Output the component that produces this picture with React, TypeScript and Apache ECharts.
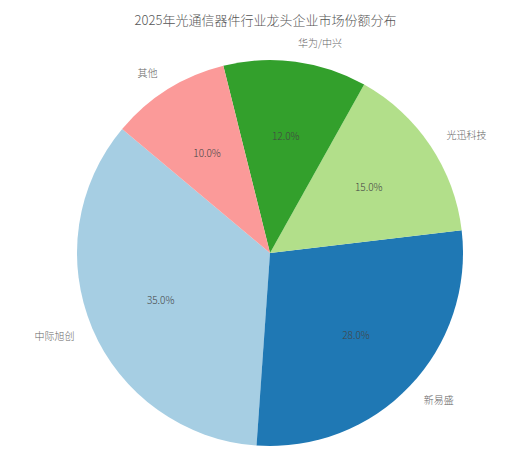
import React, { useEffect, useRef } from 'react';
import * as echarts from 'echarts';

const names = ['中际旭创', '新易盛', '光迅科技', '华为/中兴', '其他'];
const shares = [35, 28, 15, 12, 10];
const colors = ['#a6cee3', '#1f78b4', '#b2df8a', '#33a02c', '#fb9a99'];

const App: React.FC = () => {
  const chartRef = useRef<HTMLDivElement>(null);

  useEffect(() => {
    document.body.style.margin = '0';
    if (!chartRef.current) return;
    const chart = echarts.init(chartRef.current, undefined, { renderer: 'svg' });

    const font = '"Noto Sans CJK SC", "Noto Sans", sans-serif';
    const r = 193;
    const center = [270, 253];
    const data = names.map((name, i) => ({ name, value: shares[i] }));

    const option: echarts.EChartsOption = {
      animation: false,
      backgroundColor: '#fff',
      color: colors,
      title: {
        text: '2025年光通信器件行业龙头企业市场份额分布',
        left: 'center',
        top: 13,
        padding: 0,
        textStyle: {
          fontFamily: font,
          fontSize: 13,
          fontWeight: 300,
          color: '#555',
        },
      },
      series: [
        {
          type: 'pie',
          center,
          radius: [0, r],
          startAngle: 140,
          clockwise: false,
          avoidLabelOverlap: false,
          data,
          itemStyle: { borderWidth: 0 },
          label: {
            show: true,
            position: 'outside',
            formatter: '{b}',
            distanceToLabelLine: 0,
            fontFamily: font,
            fontSize: 10,
            fontWeight: 300,
            color: '#666',
          },
          labelLine: { show: false, length: r * 0.1, length2: 0 },
          emphasis: { disabled: true },
        },
        {
          // transparent ring used only to place percentages at 0.6 r
          type: 'pie',
          center,
          radius: [r * 0.2, r],
          startAngle: 140,
          clockwise: false,
          silent: true,
          data,
          itemStyle: { color: 'transparent', borderWidth: 0 },
          label: {
            show: true,
            position: 'inside',
            formatter: (p: any) => `${Number(p.value).toFixed(1)}%`,
            fontFamily: font,
            fontSize: 10,
            fontWeight: 300,
            color: '#444',
          },
          labelLine: { show: false },
          emphasis: { disabled: true },
        },
      ],
    };

    chart.setOption(option);
    return () => {
      chart.dispose();
    };
  }, []);

  return <div ref={chartRef} style={{ width: 531, height: 461 }} />;
};

export default App;
